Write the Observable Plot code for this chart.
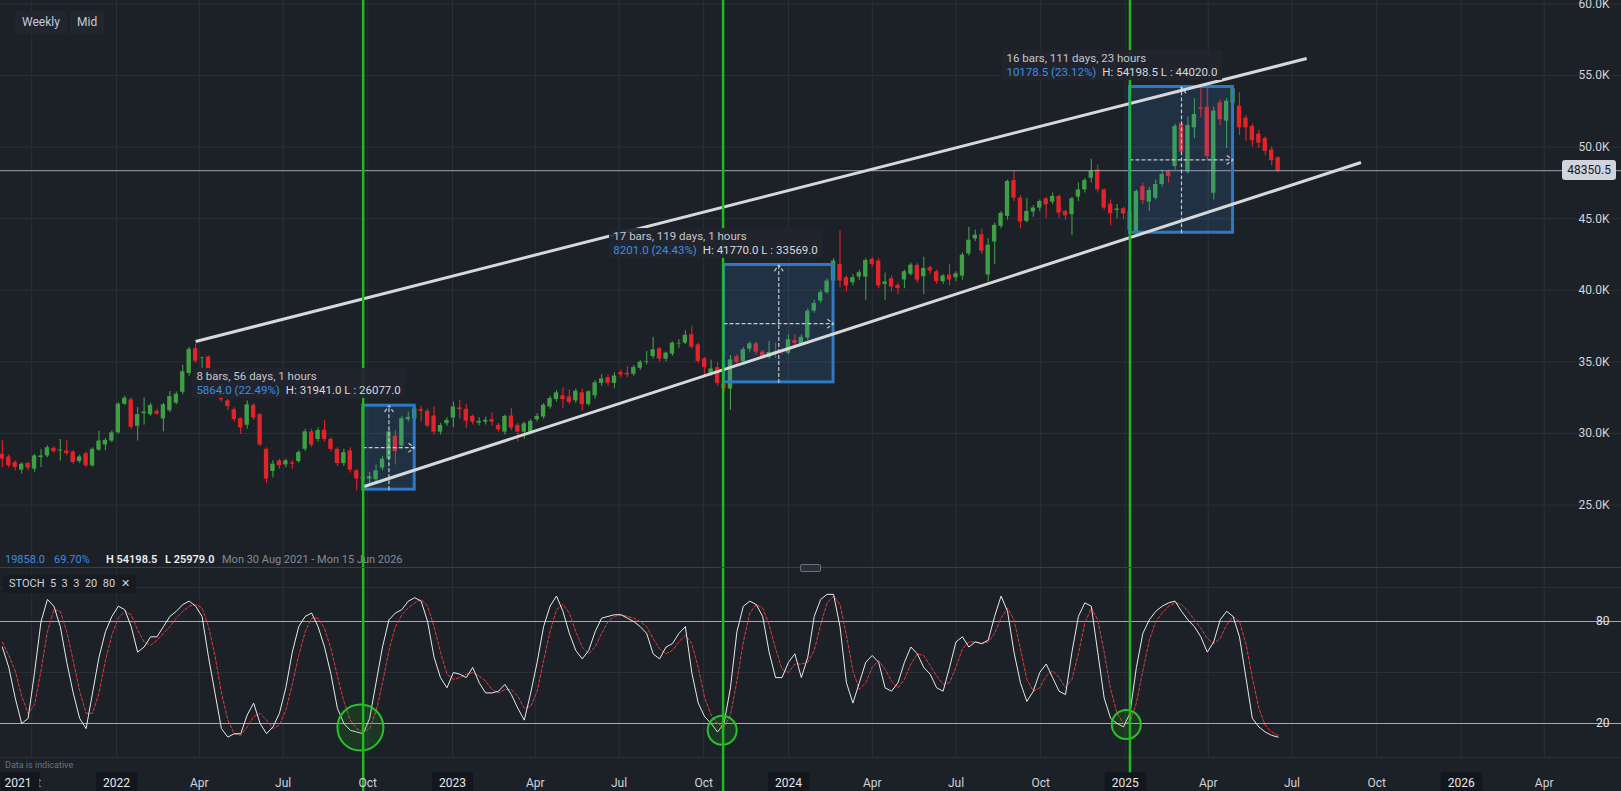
<!DOCTYPE html>
<html><head><meta charset="utf-8">
<script src="https://cdn.jsdelivr.net/npm/d3@7"></script>
<script src="https://cdn.jsdelivr.net/npm/@observablehq/plot@0.6"></script>
<style>
html,body{margin:0;padding:0;background:#1c2027;width:1621px;height:791px;overflow:hidden;font-family:Roboto,"Liberation Sans",sans-serif;}
#wrap{position:relative;width:1621px;height:791px;}
#main{position:absolute;left:0;top:0;}
#osc{position:absolute;left:0;top:568px;}
.abs{position:absolute;white-space:nowrap;}
.btn{top:11px;height:23px;line-height:23px;background:#20252e;color:#c3cadb;font-size:12px;padding:0 7px;border-radius:2px;}
.ann{background:rgba(33,37,45,0.93);font-size:11.5px;line-height:14px;padding:1px 5px 1px 4px;color:#c4c7ce;}
.ann .b{color:#3b8ee2;}
.ann .w{color:#d6d9df;margin-left:6px;}
.stat{top:553px;font-size:11px;line-height:14px;}
#tag{right:5px;background:#d1d4dc;color:#131722;font-size:12px;line-height:20px;padding:0 5px;border-radius:3px;}
</style></head>
<body><div id="wrap"><div id="main"></div><div id="osc"></div></div>
<script>
// ---------- data ----------
const open = [
28548,28364,27972,27442,27903,27512,28318,28433,28963,28779,
28779,28710,28042,28595,27742,28848,29200,29470,30046,32051,
32350,30507,31382,31313,31544,31014,31590,32120,32880,34193,
35921,35230,35345,34424,33433,32281,31659,31037,30576,31958,
31313,28894,27350,28088,27811,27949,28042,28894,30115,29585,
30230,29585,28894,27903,28779,27396,26820,26820,26774,27581,
28203,29816,29124,30968,31037,31667,31550,31221,30095,30681,
31080,31785,31691,31198,30728,30799,30963,30564,30095,31221,
30564,30095,30095,30963,31151,31855,32371,32630,32559,32278,
32841,32019,32630,33498,33897,33498,34249,34202,34132,34554,
34977,35376,35915,35188,35540,36244,36314,36901,36197,35211,
34155,34601,33428,33099,35352,35023,35892,36267,35681,35305,
35728,35798,35610,36479,36197,36666,38544,39248,39838,40648,
41805,40879,40532,40926,40926,42153,42037,40416,40810,40347,
40718,41111,41736,40949,41574,41296,40602,41065,40879,40995,
42546,43588,43889,41065,43380,44468,45162,47662,46435,44815,
45463,45741,46389,46157,46551,45509,45278,46505,47014,47824,
48403,47014,46019,45579,45694,45509,44120,47245,46157,46435,
47388,48319,48645,51624,48249,51345,52742,52788,46782,53091,
51810,53068,52858,52020,51438,50900,50600,49800,49250];
const high = [
29500,28500,28100,27950,28000,28550,28894,29150,29100,29585,
29516,28800,28500,28700,29000,30161,29650,30200,32150,32600,
32500,31820,32500,32100,31700,32120,32926,32900,34769,36000,
36267,35350,35400,34500,33500,32400,31800,31100,32281,32100,
31400,29000,28100,28200,28200,28100,28800,30300,30300,30400,
30900,29700,29000,28900,29000,27500,27100,27300,27800,28400,
30300,30200,31200,31500,31941,31925,31700,31855,30700,31100,
32207,32300,32020,31300,31100,31150,31432,30700,31300,31737,
30700,30800,31000,31400,32100,32600,33000,33194,33030,33100,
33100,33000,33700,34100,34100,34249,34437,34671,34750,35100,
35728,36713,36000,35700,36400,36549,37183,37488,36300,35300,
35141,34953,33500,35446,35500,36000,36400,36400,35800,36432,
36314,35900,36901,36901,36900,38700,39300,40000,40800,42200,
44167,41000,41100,41400,42200,42300,42200,41200,41000,40500,
41400,41900,41850,42300,41700,41400,41100,41800,41300,42600,
44398,44200,44282,43600,44700,45500,47700,48310,46600,46435,
45900,46300,46500,46800,46650,45600,46500,47500,47800,49139,
48750,47100,46300,46000,45800,45600,47000,47500,47200,47700,
48400,48400,51600,51800,52100,53370,54070,54150,52800,53300,
53400,54198.5,53800,52200,51600,51200,50700,50000,49300];
const low = [
27627,27600,27400,27166,27400,27300,27627,28300,28600,28088,
28450,27850,27900,27600,27650,28750,28800,29350,29950,31950,
30300,29470,30600,31200,31250,30115,31450,32000,32700,34000,
34900,34550,34100,33200,32200,31600,30800,29931,30300,30900,
29100,26500,26900,27500,27600,27500,27900,28750,29000,29400,
29400,28700,27700,27700,27250,25979,26077,26500,26600,27400,
28100,27800,28900,30800,30900,30799,30400,29900,29900,30500,
30400,31010,30353,30600,30550,30600,30517,30100,29900,30200,
29400,29600,29900,30800,31000,31700,32200,31737,32000,32100,
31574,31900,32400,33300,33300,33122,33900,33900,34000,34400,
34800,35200,35000,35000,35400,35962,36200,35900,34900,33967,
34000,33300,32900,31620,34800,34900,35700,35500,35200,35200,
35258,35500,35500,36100,36100,36500,38400,39100,39700,40500,
40185,39900,40300,40700,39300,41600,40100,39300,39900,39700,
40100,41000,40500,39700,41100,40400,40400,40300,40600,40700,
42400,43400,42500,40600,41800,44300,44900,46200,44300,44700,
45100,45500,45000,46000,45000,44900,43815,46200,46800,47500,
46800,45600,44500,45000,44900,44020,44100,46000,45500,46300,
47200,47500,48400,49500,48100,50577,52090,49100,46300,51500,
49900,53000,50800,50400,50000,49900,49400,48700,48200];
const close = [
28203,27742,27627,27857,27581,28433,28433,29009,28733,28848,
28595,27972,28364,27742,28894,29470,29516,30046,32051,32465,
30438,31313,31498,31958,31359,32004,32580,32742,34309,35875,
35046,35276,34424,33433,32350,31889,30968,30392,32004,31083,
29194,26820,27857,27742,28088,27857,28664,30115,29194,30207,
29585,28894,27903,28664,27442,26820,26936,26982,27396,28203,
30115,28733,31037,31129,31729,31550,30517,30095,30564,30916,
31855,31667,30869,30799,30846,30916,30799,30259,31198,30376,
30095,30681,30846,31198,31972,32442,32841,32371,32160,32958,
32019,32911,33545,33803,33498,34014,34085,34085,34601,34977,
35023,35845,35188,35610,36314,36291,36854,36033,35023,34601,
34507,33498,33146,35141,34977,35845,36267,35681,35305,35657,
35587,35657,36549,36291,36713,38544,39084,39835,40648,42037,
40648,40301,40879,41226,42083,41805,40301,40579,40231,40115,
41296,41759,40718,41528,41342,40602,40995,40718,41157,42454,
43495,43843,42731,43148,44537,45370,47593,46435,44768,45509,
45741,46204,45972,46551,45394,45208,46389,47014,47662,48334,
47014,45741,45347,45671,45324,44190,46900,46273,46969,47388,
48086,47946,51438,49646,51508,52276,52649,49343,52509,51904,
53207,54069,51345,51345,50460,50280,49700,49050,48350.5];
// Stochastic (5,3,3): %K (white) and %D (red dashed)
const stochK = [
65,53,35,20,23,50,80,93,89,77, 56,38,23,17,38,59,74,83,89,87,
77,62,65,71,71,77,83,86,90,92, 89,83,59,38,17,12,14,14,25,32,
20,14,18,26,41,62,77,83,85,77, 65,49,29,20,16,15,14,23,44,65,
81,85,87,92,94,92,80,59,47,41, 50,49,47,53,44,38,38,39,43,37,
29,22,38,56,77,89,95,86,73,63, 58,63,74,82,83,84,84,82,80,77,
73,61,58,65,67,73,77,50,32,24, 20,15,20,41,74,89,92,90,83,62,
47,47,56,61,47,59,83,93,96,96, 77,44,32,44,56,60,56,41,39,44,
56,65,61,53,49,41,39,53,68,71, 65,68,67,69,83,95,86,62,44,33,
39,50,55,47,39,37,62,83,91,89, 62,35,23,20,18,26,53,73,81,86,
89,91,92,86,81,77,71,62,68,81, 86,83,71,47,23,18,15,13,12];
const stochD = [
68,60,51,36,26,31,51,74,87,86, 74,57,39,26,26,38,57,72,82,86,
84,75,68,66,69,73,77,82,86,89, 90,88,77,60,38,22,14,13,18,24,
26,22,17,19,28,43,60,74,82,82, 76,64,48,33,22,17,15,17,27,44,
63,77,84,88,91,93,89,77,62,49, 46,47,49,50,48,45,40,38,40,40,
36,29,30,39,57,74,87,90,85,74, 65,61,65,73,80,83,84,83,82,80,
77,70,64,61,63,68,72,67,53,35, 25,20,18,25,45,68,85,90,88,78,
64,52,50,55,55,56,63,78,91,95, 90,72,51,40,44,53,57,52,45,41,
46,55,61,60,54,48,43,44,53,64, 68,68,67,68,73,82,88,81,64,46,
39,41,48,51,47,41,46,61,79,88, 81,62,40,26,20,21,32,51,69,80,
85,89,91,90,86,81,76,70,67,70, 78,83,80,67,47,29,19,15,13];
const priceTicks = [25000,30000,35000,40000,45000,50000,55000,60000];
const stochLevels = [20, 80];
const stochGrid = [50, 100];
const lastPrice = 48350.5;
// measured ranges (date-price boxes)
const rangeStart = ["2022-09-26","2023-10-23","2025-01-06"];
const rangeEnd   = ["2022-11-21","2024-02-19","2025-04-28"];
const rangeLow   = [26077, 33569, 44020];
const rangeHigh  = [31941, 41770, 54198.5];
const rangeLine1 = ["8 bars, 56 days, 1 hours","17 bars, 119 days, 1 hours","16 bars, 111 days, 23 hours"];
const rangeChg   = ["5864.0 (22.49%)","8201.0 (24.43%)","10178.5 (23.12%)"];
const rangeHL    = ["H: 31941.0 L : 26077.0","H: 41770.0 L : 33569.0","H: 54198.5 L : 44020.0"];
const labelDate  = ["2022-03-25","2023-06-21","2024-08-21"];
const labelPrice = [34540, 44316, 56746];
// trend channel
const chanStartDate = ["2022-03-28","2022-09-27"];
const chanStartVal  = [36425, 26299];
const chanEndDate   = ["2025-07-17","2025-09-14"];
const chanEndVal    = [56187, 48925];
// stochastic signals
const signalDates = ["2022-09-26","2023-10-22","2025-01-06"];
const circleDates = ["2022-09-23","2023-10-21","2025-01-02"];
const circleVals  = [17.6, 16, 19.4];
const circleR     = [23, 14.5, 14.5];

// ---------- build ----------
const P = s => new Date(s + "T00:00:00Z");
const dates = d3.utcMonday.range(new Date(Date.UTC(2021,7,30)), new Date(Date.UTC(2025,5,17)));
const n = Math.min(dates.length, open.length);
const candles = d3.range(n).map(i => ({date: dates[i], o: open[i], h: high[i], l: low[i], c: close[i]}));
const stoch = d3.range(Math.min(dates.length, stochK.length)).map(i => ({date: dates[i], k: stochK[i], d: stochD[i]}));
const ranges = rangeStart.map((s,i) => ({s: P(s), e: P(rangeEnd[i]), lo: rangeLow[i], hi: rangeHigh[i],
  m: new Date((P(s).getTime() + P(rangeEnd[i]).getTime())/2), mp: (rangeLow[i]+rangeHigh[i])/2}));
const chans = chanStartDate.map((s,i) => ({x1: P(s), y1: chanStartVal[i], x2: P(chanEndDate[i]), y2: chanEndVal[i]}));
const sig = signalDates.map(P);
const circles = circleDates.map((d,i) => ({date: P(d), v: circleVals[i], r: circleR[i]}));
const xTicks = d3.utcMonth.every(3).range(new Date(Date.UTC(2021,9,1)), new Date(Date.UTC(2026,4,2)));
const yearTicks = xTicks.filter(d => d.getUTCMonth() === 0);
const monthTicks = xTicks.filter(d => d.getUTCMonth() !== 0);

const xDomain = [new Date(Date.UTC(2021,7,28)), new Date(Date.UTC(2026,5,24))];
const GREEN = "#3f9f44", RED = "#e3232a", GRID = "#2b3038", SIG = "#22b822";
const up = d => d.c >= d.o;

const main = Plot.plot({
  width: 1621, height: 568, margin: 0,
  style: {background: "transparent", overflow: "visible", fontFamily: "Roboto, sans-serif"},
  x: {type: "utc", domain: xDomain, range: [0, 1621], axis: null},
  y: {domain: [20573, 60237], range: [568, 0], axis: null},
  marks: [
    Plot.gridY(priceTicks, {stroke: GRID, strokeOpacity: 1}),
    Plot.gridX(xTicks, {stroke: GRID, strokeOpacity: 1}),
    Plot.ruleX(candles, {x: "date", y1: "l", y2: "h", stroke: d => up(d) ? GREEN : RED, strokeWidth: 1.1}),
    Plot.rect(candles, {x1: d => d3.utcHour.offset(d.date, -57), x2: d => d3.utcHour.offset(d.date, 57),
      y1: d => Math.min(d.o, d.c), y2: d => Math.max(d.o, d.c, Math.min(d.o, d.c) + 45),
      fill: d => up(d) ? GREEN : RED}),
    Plot.ruleY([lastPrice], {stroke: "#a3a7b0", strokeWidth: 1}),
    Plot.rect(ranges, {x1: "s", x2: "e", y1: "lo", y2: "hi", fill: "#3a86d8", fillOpacity: 0.17, stroke: "#2f79c4", strokeWidth: 3}),
    Plot.arrow(ranges, {x1: "m", x2: "m", y1: "lo", y2: "hi", stroke: "#c6c9d0", strokeWidth: 1.2, strokeDasharray: "3,3", headLength: 9, headAngle: 70}),
    Plot.arrow(ranges, {x1: "s", x2: "e", y1: "mp", y2: "mp", stroke: "#c6c9d0", strokeWidth: 1.2, strokeDasharray: "3,3", headLength: 9, headAngle: 70}),
    Plot.link(chans, {x1: "x1", y1: "y1", x2: "x2", y2: "y2", stroke: "#d7d8da", strokeWidth: 3}),
    Plot.ruleX(sig, {stroke: SIG, strokeWidth: 2.5}),
    Plot.text(priceTicks, {y: d => d, frameAnchor: "right", dx: -12, textAnchor: "end", text: d => (d/1000).toFixed(1) + "K", fill: "#d1d4dc", fontSize: 12})
  ]
});
document.getElementById("main").appendChild(main);

const osc = Plot.plot({
  width: 1621, height: 223, marginTop: 0, marginBottom: 34, marginLeft: 0, marginRight: 0,
  style: {background: "transparent", overflow: "visible", fontFamily: "Roboto, sans-serif"},
  x: {type: "utc", domain: xDomain, range: [0, 1621], axis: null},
  y: {domain: [0, 111.2], axis: null},
  r: {type: "linear", domain: [0, 30], range: [0, 30]},
  marks: [
    Plot.gridX(xTicks, {stroke: GRID, strokeOpacity: 1}),
    Plot.gridY(stochGrid, {stroke: GRID, strokeOpacity: 1}),
    Plot.ruleY([0], {stroke: GRID}),
    Plot.ruleY(stochLevels, {stroke: "#86b4da", strokeWidth: 1}),
    Plot.line(stoch, {x: "date", y: "d", stroke: "#e33b3b", strokeWidth: 1, strokeDasharray: "3,2"}),
    Plot.line(stoch, {x: "date", y: "k", stroke: "#e9e9ea", strokeWidth: 1}),
    Plot.dot(circles, {x: "date", y: "v", r: "r", fill: SIG, fillOpacity: 0.16, stroke: "#27c427", strokeWidth: 2}),
    Plot.ruleX(sig, {stroke: SIG, strokeWidth: 2.5, insetBottom: -34}),
    Plot.text(stochLevels, {y: d => d, frameAnchor: "right", dx: -12, textAnchor: "end", text: d => String(d), fill: "#e0e3eb", fontSize: 12}),
    Plot.text(monthTicks, {x: d => d, frameAnchor: "bottom", dy: 26, lineAnchor: "middle", text: d => d3.utcFormat("%b")(d), fill: "#d1d4dc", fontSize: 12}),
    Plot.text(yearTicks, {x: d => d, frameAnchor: "bottom", dy: 26, lineAnchor: "middle", text: d => d3.utcFormat("%Y")(d), fill: "#e6e8ee", fontSize: 12, ariaDescription: "yearlab"}),
    Plot.text(["2021"], {frameAnchor: "bottom-left", dx: 4, dy: 26, lineAnchor: "middle", textAnchor: "start", text: d => d, fill: "#e6e8ee", fontSize: 12, ariaDescription: "yearlab2021"})
  ]
});
document.getElementById("osc").appendChild(osc);

// label boxes behind year labels
(function(){
  const sr = osc.getBoundingClientRect();
  function boxes(sel, padL, padR) {
    osc.querySelectorAll(sel).forEach(g => {
      g.querySelectorAll("text").forEach(t => {
        const b = t.getBoundingClientRect();
        const r = document.createElementNS("http://www.w3.org/2000/svg", "rect");
        const left = Math.max(0, b.left - sr.left - padL);
        r.setAttribute("x", left);
        r.setAttribute("y", b.top - sr.top - 4);
        r.setAttribute("width", b.right - sr.left + padR - left);
        r.setAttribute("height", b.height + 10);
        r.setAttribute("fill", "#12161d");
        osc.insertBefore(r, g);
      });
    });
  }
  boxes('g[aria-description="yearlab"]', 7, 7);
  boxes('g[aria-description="yearlab2021"]', 4, 8);
})();

const wrap = document.getElementById("wrap");
function addDiv(cls, html, style){ const d = document.createElement("div"); d.className = "abs " + cls; d.innerHTML = html; Object.assign(d.style, style); wrap.appendChild(d); return d; }
const xs = main.scale("x"), ys = main.scale("y");
// range annotations
rangeLine1.forEach((t,i) => {
  addDiv("ann", `<div>${t}</div><div><span class="b">${rangeChg[i]}</span><span class="w">${rangeHL[i]}</span></div>`,
    {left: xs.apply(P(labelDate[i])) + "px", top: ys.apply(labelPrice[i]) + "px"});
});
// last price tag
addDiv("", lastPrice.toFixed(1), {top: (ys.apply(lastPrice) - 10) + "px"}).id = "tag";
// toolbar buttons
addDiv("btn", "Weekly", {left: "15px"});
addDiv("btn", "Mid", {left: "70px"});
// stats line
addDiv("stat", "19858.0", {left: "5px", color: "#3b8ee2"});
addDiv("stat", "69.70%", {left: "54px", color: "#3b8ee2"});
addDiv("stat", "H 54198.5", {left: "106px", color: "#eceef2", fontWeight: "600"});
addDiv("stat", "L 25979.0", {left: "165px", color: "#eceef2", fontWeight: "600"});
addDiv("stat", "Mon 30 Aug 2021 - Mon 15 Jun 2026", {left: "222px", color: "#868993"});
// pane separator + handle
addDiv("", "", {left: "0px", top: "567px", width: "1621px", height: "1px", background: "#3b3f48"});
addDiv("", "", {left: "800px", top: "564px", width: "19px", height: "6px", border: "1px solid #6d717a", borderRadius: "2px", background: "#2a2e36"});
// stoch legend
addDiv("", "STOCH&nbsp; 5&nbsp; 3&nbsp; 3&nbsp; 20&nbsp; 80&nbsp; &#x2715;", {left: "3px", top: "575px", height: "18px", lineHeight: "18px", padding: "0 6px", background: "#171b22", color: "#d1d4dc", fontSize: "11px"});
addDiv("", "Data is indicative", {left: "5px", top: "760px", fontSize: "9px", color: "#6e727b"});
</script></body></html>
